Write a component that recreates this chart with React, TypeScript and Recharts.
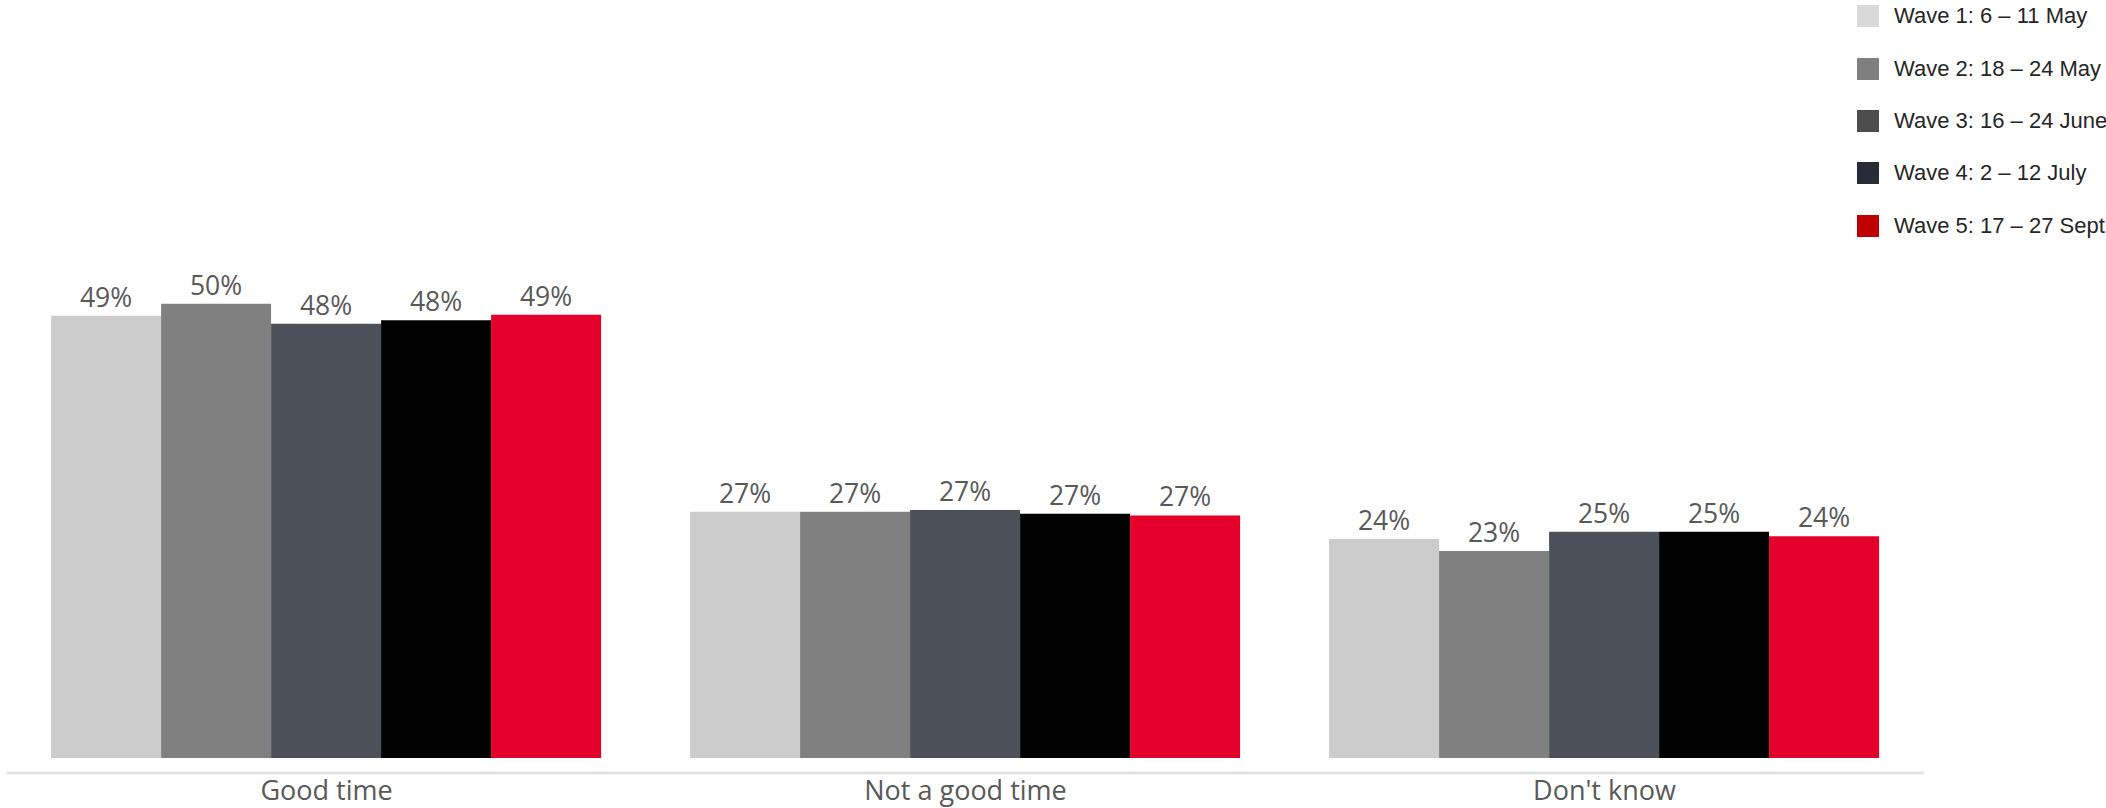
import React from "react"
import { Bar, BarChart, XAxis, YAxis, Legend, LabelList } from "recharts"

// categories and wave results (percent)
const categories = ["Good time", "Not a good time", "Don't know"]
const wave1 = [48.7, 27.1, 24.1]
const wave2 = [50.0, 27.1, 22.8]
const wave3 = [47.8, 27.3, 24.9]
const wave4 = [48.2, 26.9, 24.9]
const wave5 = [48.8, 26.7, 24.4]

const waveNames = [
    "Wave 1: 6 – 11 May",
    "Wave 2: 18 – 24 May",
    "Wave 3: 16 – 24 June",
    "Wave 4: 2 – 12 July",
    "Wave 5: 17 – 27 Sept",
]
const barColors = ["#cccccc", "#808080", "#4c5058", "#000000", "#e4002b"]
const legendColors = ["#d9d9d9", "#7f7f7f", "#4d4d4d", "#262d36", "#c00000"]

const series = [wave1, wave2, wave3, wave4, wave5]

const data = categories.map((name, i) => {
    const row: any = { name }
    series.forEach((s, j) => {
        row["w" + (j + 1)] = s[i]
    })
    return row
})

function WaveLegend() {
    return (
        <div style={{ fontFamily: "'Liberation Sans', Arial, sans-serif", fontSize: 22, color: "#262626" }}>
            {waveNames.map((label, i) => (
                <div
                    key={label}
                    style={{ display: "flex", alignItems: "center", height: 52.4, marginTop: i === 0 ? -10 : 0, whiteSpace: "nowrap" }}
                >
                    <span style={{ display: "inline-block", flexShrink: 0, width: 22, height: 22, background: legendColors[i], marginRight: 15 }} />
                    <span>{label}</span>
                </div>
            ))}
        </div>
    )
}

export default function App() {
    return (
        <div style={{ position: "absolute", left: 0, top: 0, background: "#fff" }}>
            <BarChart
                width={2106}
                height={808}
                data={data}
                margin={{ top: 213, right: 182, bottom: 0, left: 7 }}
                barCategoryGap="6.9%"
                barGap={0}
            >
                <XAxis
                    dataKey="name"
                    height={35}
                    tickLine={false}
                    axisLine={{ stroke: "#e3e3e3", strokeWidth: 3 }}
                    tick={{ fill: "#595959", fontSize: 27, fontFamily: "'Open Sans', sans-serif" }}
                />
                <YAxis hide domain={[-1.65, 60]} />
                <Legend
                    layout="vertical"
                    align="right"
                    verticalAlign="top"
                    content={() => <WaveLegend />}
                    wrapperStyle={{ left: 1857, right: "auto", top: 0, width: 0, height: 0, overflow: "visible" }}
                />
                {barColors.map((color, j) => (
                    <Bar key={j} dataKey={"w" + (j + 1)} name={waveNames[j]} fill={color} isAnimationActive={false}>
                        <LabelList
                            dataKey={"w" + (j + 1)}
                            position="top"
                            offset={9}
                            formatter={(v: any) => Math.round(v) + "%"}
                            style={{ fill: "#595959", fontSize: 26.5, fontFamily: "'Open Sans', sans-serif" }}
                        />
                    </Bar>
                ))}
            </BarChart>
        </div>
    )
}
